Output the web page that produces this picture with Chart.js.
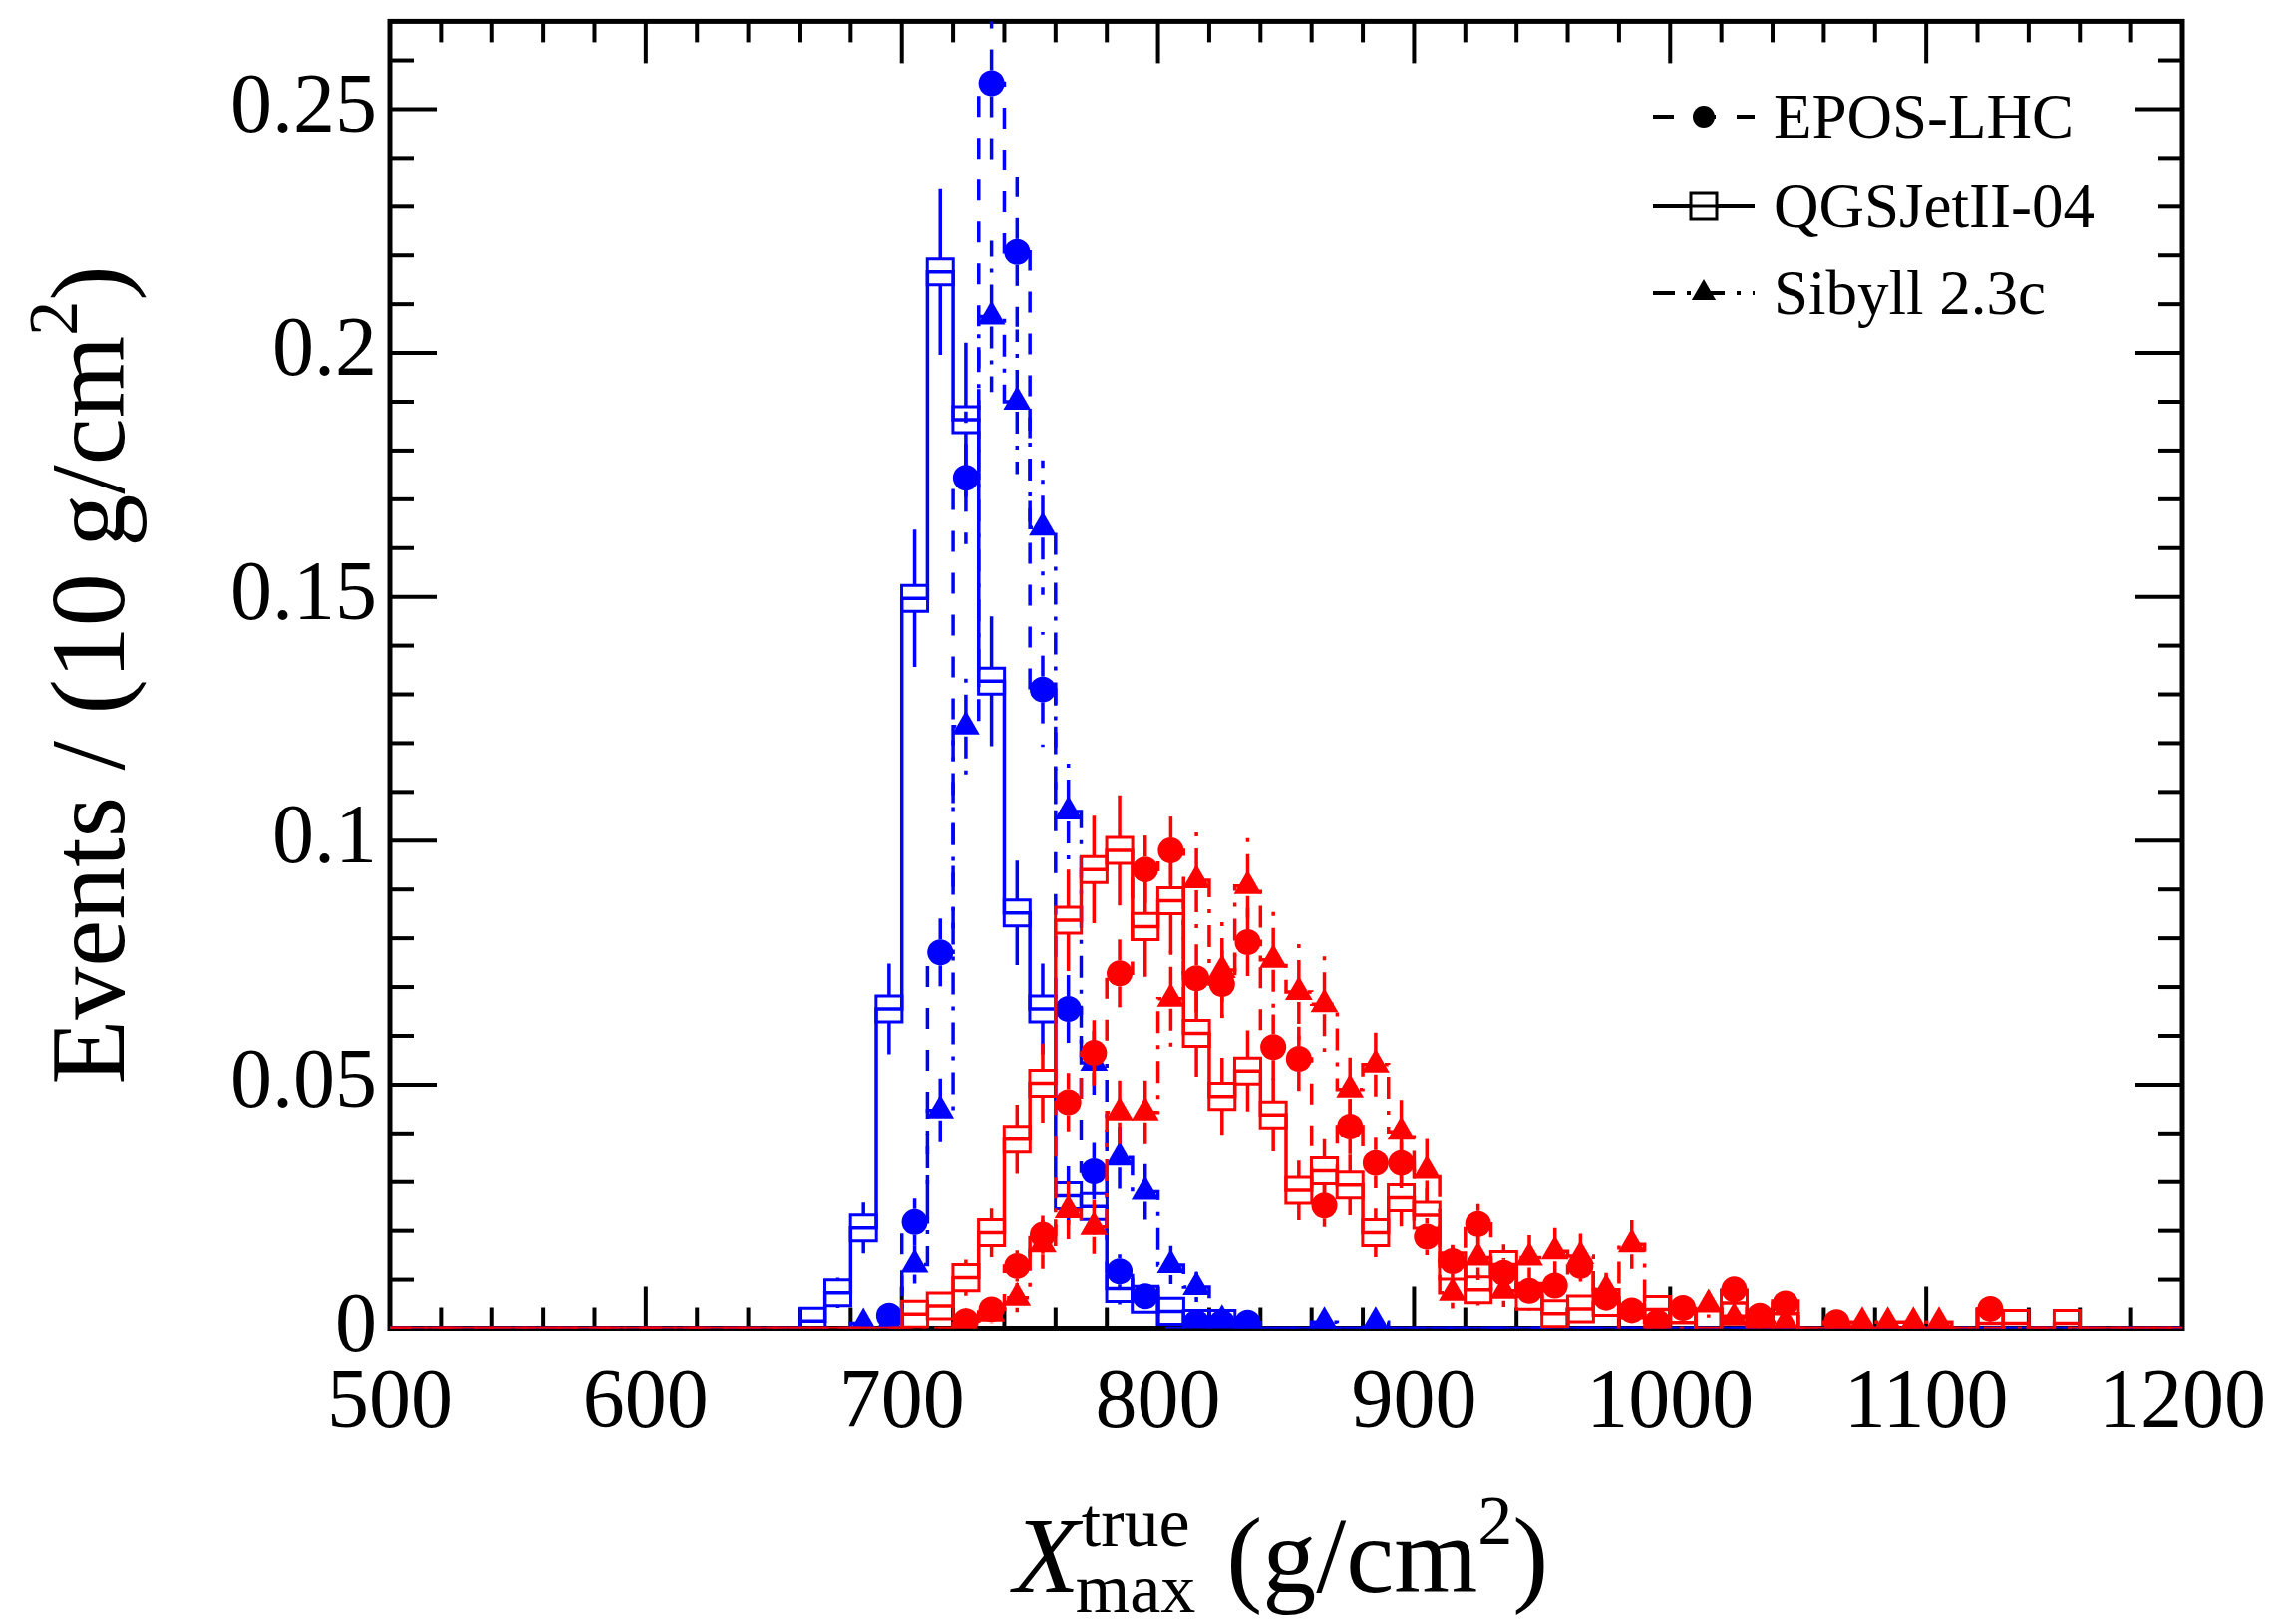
<!DOCTYPE html>
<html>
<head>
<meta charset="utf-8">
<script src="https://cdn.jsdelivr.net/npm/chart.js@4.4.1/dist/chart.umd.min.js"></script>
<style>
  html, body { margin: 0; padding: 0; background: #fff; }
  canvas { display: block; }
</style>
</head>
<body>
<canvas id="xmaxChart" width="2291" height="1629"></canvas>
<script>
// bin centres (10 g/cm2 bins)
const binCenters = [
  665, 675, 685, 695, 705, 715, 725, 735, 745, 755,
  765, 775, 785, 795, 805, 815, 825, 835, 845, 855,
  865, 875, 885, 895, 905, 915, 925, 935, 945, 955,
  965, 975, 985, 995, 1005, 1015, 1025, 1035, 1045, 1055,
  1065, 1075, 1085, 1095, 1105, 1115, 1125, 1135, 1145, 1155
];

// blue histograms
const ironEPOS = [
  0, 0, 0, 0.0026, 0.0218, 0.0771, 0.1744, 0.2553, 0.2207, 0.1310,
  0.0655, 0.0322, 0.0117, 0.0066, 0, 0.0012, 0.0012, 0.0012, 0, 0,
  0, 0, 0, 0, 0, 0, 0, 0, 0, 0,
  0, 0, 0, 0, 0, 0, 0, 0, 0, 0,
  0, 0, 0, 0, 0, 0, 0, 0, 0, 0
];
const ironEPOSErr = [
  0, 0, 0, 0.0017, 0.0048, 0.0085, 0.0136, 0.0165, 0.0153, 0.0118,
  0.0083, 0.0058, 0.0035, 0.0026, 0, 0.0011, 0.0011, 0.0011, 0, 0,
  0, 0, 0, 0, 0, 0, 0, 0, 0, 0,
  0, 0, 0, 0, 0, 0, 0, 0, 0, 0,
  0, 0, 0, 0, 0, 0, 0, 0, 0, 0
];
const ironQGS = [
  0.0015, 0.0073, 0.0206, 0.0655, 0.1497, 0.2166, 0.1863, 0.1327, 0.0852, 0.0655,
  0.0272, 0.0250, 0.0082, 0.0060, 0.0035, 0.0010, 0.0010, 0, 0, 0,
  0, 0, 0, 0, 0, 0, 0, 0, 0, 0,
  0, 0, 0, 0, 0, 0, 0, 0, 0, 0,
  0, 0, 0, 0, 0, 0, 0, 0, 0, 0
];
const ironQGSErr = [
  0.0014, 0.0031, 0.0052, 0.0093, 0.0141, 0.0170, 0.0158, 0.0133, 0.0107, 0.0093,
  0.0060, 0.0058, 0.0033, 0.0028, 0.0022, 0.0012, 0.0012, 0, 0, 0,
  0, 0, 0, 0, 0, 0, 0, 0, 0, 0,
  0, 0, 0, 0, 0, 0, 0, 0, 0, 0,
  0, 0, 0, 0, 0, 0, 0, 0, 0, 0
];
const ironSIB = [
  0, 0, 0.0010, 0.0010, 0.0131, 0.0447, 0.1234, 0.2075, 0.1900, 0.1642,
  0.1060, 0.0545, 0.0350, 0.0280, 0.0130, 0.0085, 0.0017, 0, 0, 0,
  0.0013, 0, 0.0013, 0, 0, 0, 0, 0, 0, 0,
  0, 0, 0, 0, 0, 0, 0, 0, 0, 0,
  0, 0, 0, 0, 0, 0, 0, 0, 0, 0
];
const ironSIBErr = [
  0, 0, 0.0011, 0.0011, 0.0039, 0.0072, 0.0119, 0.0155, 0.0148, 0.0138,
  0.0110, 0.0079, 0.0064, 0.0057, 0.0039, 0.0031, 0.0014, 0, 0, 0,
  0.0012, 0, 0.0012, 0, 0, 0, 0, 0, 0, 0,
  0, 0, 0, 0, 0, 0, 0, 0, 0, 0,
  0, 0, 0, 0, 0, 0, 0, 0, 0, 0
];

// red histograms
const protonEPOS = [
  0, 0, 0, 0, 0, 0, 0.0015, 0.0039, 0.0128, 0.0192,
  0.0464, 0.0565, 0.0728, 0.0941, 0.0980, 0.0718, 0.0706, 0.0792, 0.0577, 0.0553,
  0.0252, 0.0414, 0.0339, 0.0339, 0.0188, 0.0138, 0.0214, 0.0114, 0.0077, 0.0088,
  0.0128, 0.0063, 0.0037, 0.0013, 0.0042, 0, 0.0080, 0.0026, 0.0051, 0,
  0.0013, 0, 0, 0, 0, 0, 0.0040, 0, 0, 0
];
const protonEPOSErr = [
  0, 0, 0, 0, 0, 0, 0.0011, 0.0017, 0.0032, 0.0039,
  0.0060, 0.0067, 0.0076, 0.0086, 0.0088, 0.0075, 0.0074, 0.0079, 0.0067, 0.0066,
  0.0044, 0.0057, 0.0052, 0.0052, 0.0038, 0.0033, 0.0041, 0.0030, 0.0025, 0.0026,
  0.0032, 0.0022, 0.0017, 0.0010, 0.0018, 0, 0.0025, 0.0014, 0.0020, 0,
  0.0010, 0, 0, 0, 0, 0, 0.0018, 0, 0, 0
];
const protonQGS = [
  0, 0, 0, 0, 0.0029, 0.0046, 0.0104, 0.0196, 0.0388, 0.0503,
  0.0837, 0.0941, 0.0980, 0.0824, 0.0877, 0.0605, 0.0476, 0.0528, 0.0438, 0.0283,
  0.0323, 0.0294, 0.0196, 0.0268, 0.0232, 0.0128, 0.0079, 0.0131, 0.0066, 0.0030,
  0.0040, 0.0053, 0.0022, 0.0039, 0.0012, 0, 0.0052, 0.0008, 0.0030, 0,
  0, 0, 0, 0, 0, 0, 0.0010, 0.0010, 0, 0.0010
];
const protonQGSErr = [
  0, 0, 0, 0, 0.0019, 0.0024, 0.0037, 0.0050, 0.0071, 0.0081,
  0.0104, 0.0110, 0.0113, 0.0103, 0.0107, 0.0089, 0.0079, 0.0083, 0.0075, 0.0061,
  0.0065, 0.0062, 0.0050, 0.0059, 0.0055, 0.0041, 0.0032, 0.0041, 0.0029, 0.0020,
  0.0023, 0.0026, 0.0017, 0.0023, 0.0012, 0, 0.0026, 0.0010, 0.0020, 0,
  0, 0, 0, 0, 0, 0, 0.0011, 0.0011, 0, 0.0011
];
const protonSIB = [
  0, 0, 0, 0, 0, 0, 0.0010, 0.0030, 0.0063, 0.0172,
  0.0242, 0.0208, 0.0443, 0.0443, 0.0676, 0.0919, 0.0735, 0.0907, 0.0756, 0.0690,
  0.0665, 0.0490, 0.0541, 0.0403, 0.0323, 0.0073, 0.0145, 0.0077, 0.0145, 0.0158,
  0.0148, 0.0080, 0.0172, 0, 0, 0.0049, 0.0022, 0.0013, 0.0013, 0,
  0, 0.0013, 0.0013, 0.0013, 0.0013, 0, 0, 0, 0, 0
];
const protonSIBErr = [
  0, 0, 0, 0, 0, 0, 0.0012, 0.0021, 0.0030, 0.0050,
  0.0059, 0.0055, 0.0080, 0.0080, 0.0099, 0.0115, 0.0103, 0.0114, 0.0104, 0.0100,
  0.0098, 0.0084, 0.0088, 0.0076, 0.0068, 0.0032, 0.0046, 0.0033, 0.0046, 0.0048,
  0.0046, 0.0034, 0.0050, 0, 0, 0.0027, 0.0018, 0.0014, 0.0014, 0,
  0, 0.0014, 0.0014, 0.0014, 0.0014, 0, 0, 0, 0, 0
];

const xTickValues = [500, 600, 700, 800, 900, 1000, 1100, 1200];
const yTickValues = [0, 0.05, 0.1, 0.15, 0.2, 0.25];
const yTickLabels = ['0', '0.05', '0.1', '0.15', '0.2', '0.25'];
const legendLabels = ['EPOS-LHC', 'QGSJetII-04', 'Sibyll 2.3c'];

const X_MIN = 500, X_MAX = 1200, Y_MAX = 0.268, BIN_HALF = 5;
const SERIF = '"Liberation Serif", "Times New Roman", serif';
const BLUE = '#0000ff', RED = '#ff0000';
const LINE_W = 3.5;
const DASH_EPOS = [21, 21];
const DASH_QGS = [];
const DASH_SIB = [22, 12, 4, 12];

const models = [
  { dash: DASH_EPOS, marker: 'circle' },
  { dash: DASH_QGS, marker: 'square' },
  { dash: DASH_SIB, marker: 'triangle' }
];

const series = [
  { values: ironEPOS, errors: ironEPOSErr, color: BLUE, model: 0 },
  { values: ironQGS, errors: ironQGSErr, color: BLUE, model: 1 },
  { values: ironSIB, errors: ironSIBErr, color: BLUE, model: 2 },
  { values: protonEPOS, errors: protonEPOSErr, color: RED, model: 0 },
  { values: protonQGS, errors: protonQGSErr, color: RED, model: 1 },
  { values: protonSIB, errors: protonSIBErr, color: RED, model: 2 }
];

function stepPoints(values) {
  const pts = [{ x: X_MIN, y: 0 }];
  values.forEach((v, i) => pts.push({ x: binCenters[i] - BIN_HALF, y: v }));
  pts.push({ x: binCenters[binCenters.length - 1] + BIN_HALF, y: 0 });
  pts.push({ x: X_MAX, y: 0 });
  return pts;
}

function markerPoints(values, errors) {
  const pts = [];
  values.forEach((v, i) => {
    if (v > 0) pts.push({ x: binCenters[i], y: v, e: errors[i] });
  });
  return pts;
}

const markerStyle = {
  circle: { pointStyle: 'circle', radius: 13, fill: true, gap: 13 },
  square: { pointStyle: 'rect', radius: 18.4, fill: false, gap: 13 },
  triangle: { pointStyle: 'triangle', radius: 16, fill: true, gap: 10 }
};

const datasets = [];
series.forEach((s, k) => {
  const m = models[s.model];
  const ms = markerStyle[m.marker];
  datasets.push({
    type: 'line',
    data: stepPoints(s.values),
    stepped: true,
    borderColor: s.color,
    borderWidth: LINE_W,
    borderDash: m.dash,
    pointRadius: 0,
    pointHoverRadius: 0,
    fill: false,
    order: 100 - 2 * k
  });
  datasets.push({
    type: 'scatter',
    data: markerPoints(s.values, s.errors),
    showLine: false,
    pointStyle: ms.pointStyle,
    pointRadius: ms.radius,
    pointHoverRadius: ms.radius,
    backgroundColor: ms.fill ? s.color : 'rgba(0,0,0,0)',
    borderColor: s.color,
    borderWidth: ms.fill ? 0 : 3,
    order: 100 - 2 * k - 1,
    errorBars: true,
    errorDash: m.dash,
    errorGap: ms.gap
  });
});

// vertical error bars, drawn under each marker set
const errorBarPlugin = {
  id: 'errorBars',
  beforeDatasetDraw(chart, args) {
    const ds = chart.data.datasets[args.index];
    if (!ds.errorBars) return;
    const { ctx, chartArea: a } = chart;
    const x = chart.scales.x, y = chart.scales.y;
    ctx.save();
    ctx.beginPath();
    ctx.rect(a.left, a.top, a.right - a.left, a.bottom - a.top);
    ctx.clip();
    ctx.strokeStyle = ds.borderColor;
    ctx.lineWidth = LINE_W;
    ctx.setLineDash(ds.errorDash);
    ds.data.forEach(p => {
      const px = x.getPixelForValue(p.x);
      const py = y.getPixelForValue(p.y);
      const top = y.getPixelForValue(p.y + p.e);
      const bot = y.getPixelForValue(p.y - p.e);
      if (py - ds.errorGap > top) {
        ctx.beginPath(); ctx.moveTo(px, py - ds.errorGap); ctx.lineTo(px, top); ctx.stroke();
      }
      if (bot > py + ds.errorGap) {
        ctx.beginPath(); ctx.moveTo(px, py + ds.errorGap); ctx.lineTo(px, bot); ctx.stroke();
      }
    });
    ctx.restore();
  }
};

// ROOT style frame with ticks on all four sides
const framePlugin = {
  id: 'frame',
  beforeDatasetsDraw(chart) {
    const { ctx, chartArea: a } = chart;
    const x = chart.scales.x, y = chart.scales.y;
    ctx.save();
    ctx.strokeStyle = '#000';
    ctx.lineWidth = 4;
    ctx.setLineDash([]);
    const seg = (x1, y1, x2, y2) => { ctx.beginPath(); ctx.moveTo(x1, y1); ctx.lineTo(x2, y2); ctx.stroke(); };
    for (let v = X_MIN; v <= X_MAX; v += 20) {
      const len = (v % 100 === 0) ? 42 : 21;
      const px = x.getPixelForValue(v);
      seg(px, a.bottom, px, a.bottom - len);
      seg(px, a.top, px, a.top + len);
    }
    for (let k = 0; k / 100 <= Y_MAX; k++) {
      const len = (k % 5 === 0) ? 47 : 24;
      const py = y.getPixelForValue(k / 100);
      seg(a.left, py, a.left + len, py);
      seg(a.right, py, a.right - len, py);
    }
    ctx.lineWidth = 5;
    ctx.strokeRect(a.left, a.top, a.right - a.left, a.bottom - a.top);
    ctx.restore();
  }
};

function drawMarker(ctx, kind, cx, cy) {
  ctx.beginPath();
  if (kind === 'circle') {
    ctx.arc(cx, cy, 11, 0, Math.PI * 2);
    ctx.fill();
  } else if (kind === 'square') {
    ctx.lineWidth = 3;
    ctx.setLineDash([]);
    ctx.fillStyle = '#fff';
    ctx.fillRect(cx - 13, cy - 13, 26, 26);
    ctx.strokeRect(cx - 13, cy - 13, 26, 26);
    ctx.fillStyle = '#000';
    ctx.beginPath(); ctx.moveTo(cx - 13, cy); ctx.lineTo(cx + 13, cy); ctx.stroke();
  } else {
    const r = 14;
    ctx.moveTo(cx, cy - r);
    ctx.lineTo(cx + r * 0.866, cy + r * 0.5);
    ctx.lineTo(cx - r * 0.866, cy + r * 0.5);
    ctx.closePath();
    ctx.fill();
  }
}

const decorPlugin = {
  id: 'decor',
  afterDraw(chart) {
    const { ctx, chartArea: a } = chart;
    ctx.save();
    ctx.fillStyle = '#000';
    ctx.strokeStyle = '#000';
    ctx.textAlign = 'left';
    ctx.textBaseline = 'alphabetic';

    // legend
    const rowY = [117, 207, 294];
    models.forEach((m, i) => {
      const cy = rowY[i];
      ctx.lineWidth = 4;
      ctx.setLineDash(m.dash);
      ctx.beginPath(); ctx.moveTo(1658, cy); ctx.lineTo(1760, cy); ctx.stroke();
      ctx.setLineDash([]);
      drawMarker(ctx, m.marker, 1709, cy);
      ctx.font = '63px ' + SERIF;
      ctx.fillText(legendLabels[i], 1779, cy + 21);
    });

    // y title, rotated
    const big = '106px ' + SERIF, small = '70px ' + SERIF;
    ctx.font = big;
    const y1 = 'Events / (10 g/cm', y3 = ')';
    const w1 = ctx.measureText(y1).width, w3 = ctx.measureText(y3).width;
    ctx.font = small;
    const w2 = ctx.measureText('2').width;
    ctx.save();
    ctx.translate(124, (a.top + a.bottom) / 2);
    ctx.rotate(-Math.PI / 2);
    let sx = -(w1 + w2 + w3) / 2;
    ctx.font = big; ctx.fillText(y1, sx, 0); sx += w1;
    ctx.font = small; ctx.fillText('2', sx, -47); sx += w2;
    ctx.font = big; ctx.fillText(y3, sx, 0);
    ctx.restore();

    // x title: X^true_max (g/cm^2)
    const base = 1597;
    const ital = 'italic 108px ' + SERIF, main = '108px ' + SERIF;
    ctx.font = ital; const wX = ctx.measureText('X').width;
    ctx.font = small;
    const wTrue = ctx.measureText('true').width, wMax = ctx.measureText('max').width, wTwo = ctx.measureText('2').width;
    ctx.font = main;
    const wOpen = ctx.measureText(' (g/cm').width, wClose = ctx.measureText(')').width;
    const total = wX + Math.max(wTrue, wMax) + wOpen + wTwo + wClose;
    let tx = 1285 - total / 2;
    ctx.font = ital; ctx.fillText('X', tx, base); tx += wX;
    ctx.font = small;
    ctx.fillText('true', tx + 2, base - 46);
    ctx.fillText('max', tx - 4, base + 20);
    tx += Math.max(wTrue, wMax);
    ctx.font = main; ctx.fillText(' (g/cm', tx, base); tx += wOpen;
    ctx.font = small; ctx.fillText('2', tx, base - 48); tx += wTwo;
    ctx.font = main; ctx.fillText(')', tx, base);
    ctx.restore();
  }
};

new Chart(document.getElementById('xmaxChart'), {
  type: 'line',
  data: { datasets: datasets },
  options: {
    responsive: false,
    animation: false,
    devicePixelRatio: 1,
    layout: { padding: { left: 0, top: 20, right: 102, bottom: 0 } },
    plugins: { legend: { display: false }, tooltip: { enabled: false } },
    scales: {
      x: {
        type: 'linear',
        min: X_MIN,
        max: X_MAX,
        grid: { display: false, drawTicks: false },
        border: { display: false },
        afterBuildTicks: s => { s.ticks = xTickValues.map(v => ({ value: v })); },
        ticks: {
          autoSkip: false,
          maxRotation: 0,
          padding: 26,
          color: '#000',
          font: { family: SERIF, size: 84 },
          callback: v => String(v)
        },
        afterFit: s => { s.height = 1629 - 1332.5; s.paddingLeft = 0; s.paddingRight = 0; }
      },
      y: {
        type: 'linear',
        min: 0,
        max: Y_MAX,
        grid: { display: false, drawTicks: false },
        border: { display: false },
        afterBuildTicks: s => { s.ticks = yTickValues.map(v => ({ value: v })); },
        ticks: {
          padding: 13,
          color: '#000',
          font: { family: SERIF, size: 84 },
          callback: (v, i) => yTickLabels[i]
        },
        afterFit: s => { s.width = 391; s.paddingTop = 0; s.paddingBottom = 0; }
      }
    }
  },
  plugins: [framePlugin, errorBarPlugin, decorPlugin]
});
</script>
</body>
</html>
